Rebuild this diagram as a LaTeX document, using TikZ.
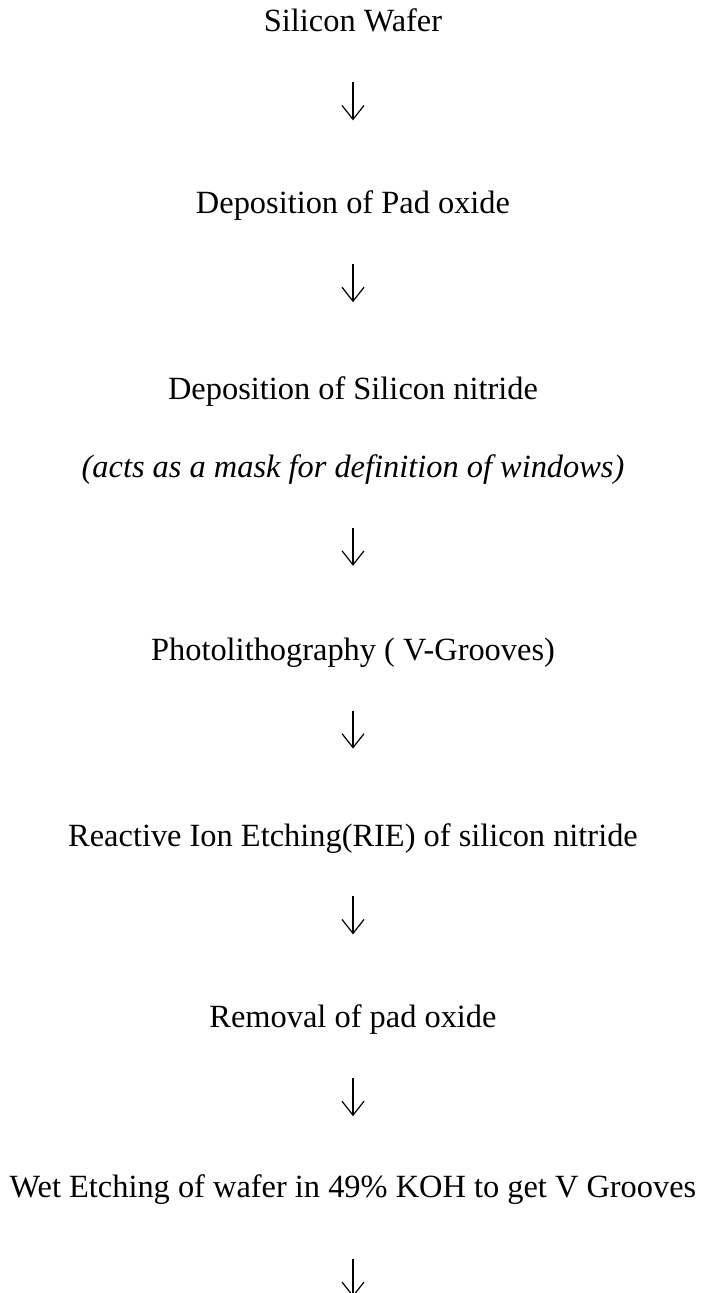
\documentclass[tikz,border=0pt]{standalone}
\usepackage{fontspec}
\setmainfont{Liberation Serif}
\usetikzlibrary{
	positioning,
	arrows.meta
}

\begin{document}
\begin{tikzpicture}[
	stage/.style={
		inner sep=0pt,
		text height=11pt,
		text depth=3.5pt,
		font=\fontsize{16.2pt}{18.5pt}\selectfont
	},
	flow/.style={
		-{Straight Barb[length=7pt,width=11pt]},
		line width=.6pt,
		shorten <=21.5pt
	}
	]
	
	\useasboundingbox (0,0) rectangle (353pt,-646.5pt);
	
	\node[
	stage,
	anchor=base
	]
	(SW) at (176.5pt,-16pt)
	{Silicon Wafer};
	
	\node[
	stage,
	below=76pt of SW
	]
	(PO)
	{Deposition of Pad oxide};
	
	\node[
	stage,
	below=78pt of PO
	]
	(SN)
	{Deposition of Silicon nitride};
	
	\node[
	stage,
	below=24pt of SN
	]
	(MK)
	{\itshape (acts as a mask for definition of windows)};
	
	\node[
	stage,
	below=76.5pt of MK
	]
	(PL)
	{Photolithography ( V-Grooves)};
	
	\node[
	stage,
	below=78pt of PL
	]
	(RIE)
	{Reactive Ion Etching(RIE) of silicon nitride};
	
	\node[
	stage,
	below=76pt of RIE
	]
	(RM)
	{Removal of pad oxide};
	
	\node[
	stage,
	below=70pt of RM
	]
	(WE)
	{Wet Etching of wafer in 49\% KOH to get V Grooves};
	
	\coordinate (END) at ([yshift=-46pt]WE.south);
	
	% arrows between the steps
	\draw[flow, shorten >=35.5pt] (SW) -- (PO);
	\draw[flow, shorten >=37.5pt] (PO) -- (SN);
	\draw[flow, shorten >=36pt] (MK) -- (PL);
	\draw[flow, shorten >=37.5pt] (PL) -- (RIE);
	\draw[flow, shorten >=35.5pt] (RIE) -- (RM);
	\draw[flow, shorten >=29.5pt] (RM) -- (WE);
	\draw[flow, shorten <=27pt] (WE) -- (END);
	
\end{tikzpicture}
\end{document}
